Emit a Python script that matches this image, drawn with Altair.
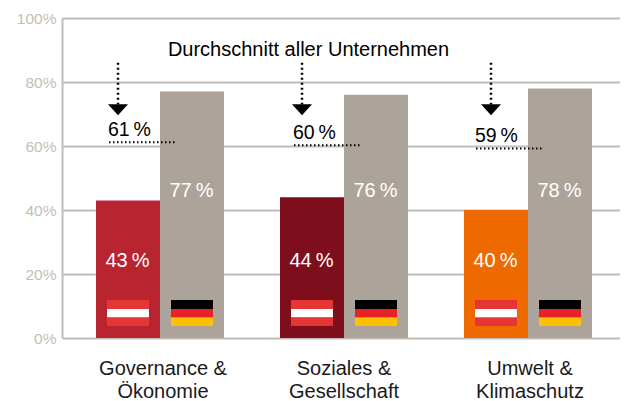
import altair as alt
import pandas as pd

topics = ["Governance &\nÖkonomie", "Soziales &\nGesellschaft", "Umwelt &\nKlimaschutz"]
austria = [43, 44, 40]
germany = [77, 76, 78]
average = [61, 60, 59]
austria_colors = ["#b82530", "#7f0e1c", "#ee6a00"]
grey = "#aca49a"
line_color = "#c4bdb5"

# horizontal layout of the reference in plot px
centers = [98, 282, 466]
bar_w = 64
flag_w = 42
avg_left = [-51, -50, -52]
avg_len = 67
arrow_x = [-42, -42, -37]
topic_x = [3, 0, 2]

bars, labels, flags, avg, arrows, cats = [], [], [], [], [], []
at_stripes = [(3.75, 6.5, "#e63535"), (6.5, 9.1, "#ffffff"), (9.1, 11.9, "#e63535")]
de_stripes = [(3.75, 6.5, "#ffc000"), (6.5, 9.1, "#e52228"), (9.1, 11.9, "#000000")]
avg_text_y = [65, 64, 63]
for i, c in enumerate(centers):
    bars.append(dict(x=c - bar_w, x2=c, y=austria[i], color=austria_colors[i]))
    bars.append(dict(x=c, x2=c + bar_w, y=germany[i], color=grey))
    labels.append(dict(x=c - bar_w / 2 - 0.5, y=24.1, t=f"{austria[i]}\u2009%"))
    labels.append(dict(x=c + bar_w / 2 - 0.5, y=46.0, t=f"{germany[i]}\u2009%"))
    for lo, hi, col in at_stripes:
        flags.append(dict(x=c - bar_w / 2 - flag_w / 2, x2=c - bar_w / 2 + flag_w / 2, y=lo, y2=hi, color=col))
    for lo, hi, col in de_stripes:
        flags.append(dict(x=c + bar_w / 2 - flag_w / 2, x2=c + bar_w / 2 + flag_w / 2, y=lo, y2=hi, color=col))
    avg.append(dict(x=c + avg_left[i], x2=c + avg_left[i] + avg_len, y=average[i] + 0.2,
                    ty=avg_text_y[i], t=f"{average[i]}\u2009%"))
    arrows.append(dict(x=c + arrow_x[i], y=86, y2=73, tip=71.3))
    cats.append(dict(x=c + topic_x[i], t=topics[i]))

X = alt.X("x:Q", scale=alt.Scale(domain=[0, 558], nice=False, zero=False), axis=None)
Y = alt.Y("y:Q", scale=alt.Scale(domain=[0, 100], nice=False), title=None,
          axis=alt.Axis(values=[0, 20, 40, 60, 80, 100], labelExpr="datum.value + '%'",
                        grid=True, gridColor=line_color, gridWidth=2, domain=True,
                        domainColor=line_color, domainWidth=2, ticks=False,
                        labelColor="#c4bdb5", labelFont="Liberation Sans", labelFontSize=15.5,
                        labelPadding=6))

b = alt.Chart(pd.DataFrame(bars)).mark_bar(clip=False).encode(
    x=X, x2="x2:Q", y=Y, y2=alt.Y2(datum=0), color=alt.Color("color:N", scale=None))
f = alt.Chart(pd.DataFrame(flags)).mark_rect().encode(
    x=X, x2="x2:Q", y=alt.Y("y:Q"), y2="y2:Q", color=alt.Color("color:N", scale=None))
lab = alt.Chart(pd.DataFrame(labels)).mark_text(
    color="white", font="Liberation Sans", fontSize=20).encode(x=X, y=alt.Y("y:Q"), text="t:N")
avg_df = pd.DataFrame(avg)
al = alt.Chart(avg_df).mark_rule(color="black", strokeWidth=2, strokeDash=[1.5, 2.5]).encode(
    x=X, x2="x2:Q", y=alt.Y("y:Q"))
at = alt.Chart(avg_df).mark_text(
    color="black", font="Liberation Sans", fontSize=19.5, align="left", dx=-1).encode(
    x=X, y=alt.Y("ty:Q"), text="t:N")
arr_df = pd.DataFrame(arrows)
ar = alt.Chart(arr_df).mark_rule(color="black", strokeWidth=2.5, strokeDash=[2, 3]).encode(
    x=X, y=alt.Y("y:Q"), y2="y2:Q")
tip = alt.Chart(arr_df).mark_point(
    shape="M-1,-0.55L1,-0.55L0,0.55Z", filled=True, color="black", opacity=1, size=400).encode(
    x=X, y=alt.Y("tip:Q"))
title = alt.Chart(pd.DataFrame({"x": [246.5], "y": [90.0], "t": ["Durchschnitt aller Unternehmen"]})).mark_text(
    color="black", font="Liberation Sans", fontSize=20).encode(x=X, y=alt.Y("y:Q"), text="t:N")
cat = alt.Chart(pd.DataFrame(cats)).mark_text(
    color="#1a1a1a", font="Liberation Sans", fontSize=20, lineBreak="\n", lineHeight=22.5,
    baseline="top").encode(x=X, y=alt.value(341), text="t:N")

chart = alt.layer(b, f, lab, al, at, ar, tip, title, cat).properties(
    width=558, height=320,
    padding={"left": 54, "top": 10, "right": 0, "bottom": 63},
    autosize=alt.AutoSizeParams(type="none"),
).configure_view(stroke=None)

chart.save("out.html", embed_options={"renderer": "svg", "actions": False})
